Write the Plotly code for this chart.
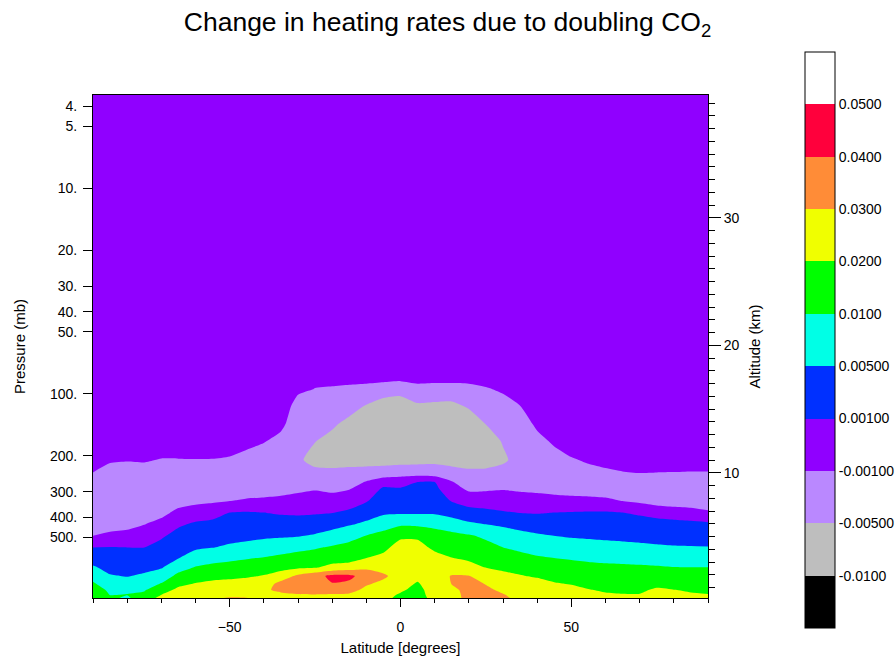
import math
import numpy as np
import plotly.graph_objects as go

# ---------------- data ----------------
latitudes = list(range(-90, 91, 5))
pressure_mb = [3.5, 60, 80, 95, 115, 140, 170, 210, 250, 270, 290, 330, 380,
               430, 490, 560, 630, 700, 770, 840, 900, 950, 990]

# heating-rate change (K/day); one list per latitude (-90 ... 90), values from top (low p) to bottom
heating_rate = [
    [0, 0, 0, 0, 0, 0, 0, -0.00026, -0.00136, -0.0022, -0.00296, -0.0038, -0.0038, -0.0038, -0.00106, 0.00102, 0.00334, 0.0055, 0.00818, 0.0112, 0.015, 0.016, 0.016],
    [0, 0, 0, 0, 0, 0, 0, -0.00081, -0.00249, -0.00332, -0.0038, -0.0038, -0.0038, -0.00312, -0.00048, 0.00111, 0.00264, 0.00396, 0.0053, 0.00735, 0.009, 0.00985, 0.0115],
    [0, 0, 0, 0, 0, 0, 0, -0.00091, -0.00269, -0.00352, -0.0038, -0.0038, -0.0038, -0.00234, -0.00033, 0.00101, 0.00246, 0.00371, 0.00484, 0.00665, 0.00925, 0.0103, 0.00925],
    [0, 0, 0, 0, 0, 0, 0, -0.00085, -0.00257, -0.0034, -0.0038, -0.0038, -0.00312, -0.00114, -0.00003, 0.00102, 0.00264, 0.00405, 0.00562, 0.00781, 0.00956, 0.01185, 0.015],
    [0, 0, 0, 0, 0, 0, 0, -0.00118, -0.00305, -0.0038, -0.0038, -0.0038, -0.00204, -0.00041, 0.00075, 0.00215, 0.00352, 0.0047, 0.00731, 0.0105, 0.0158, 0.01994, 0.023],
    [0, 0, 0, 0, 0, 0, 0, -0.00114, -0.00301, -0.0038, -0.0038, -0.0027, -0.00048, 0.00073, 0.00212, 0.00354, 0.00487, 0.00813, 0.0124, 0.0177, 0.0221, 0.024, 0.025],
    [0, 0, 0, 0, 0, 0, 0, -0.0011, -0.00297, -0.0038, -0.0038, -0.00213, 0.00004, 0.00146, 0.00296, 0.00445, 0.0072, 0.0106, 0.0157, 0.02045, 0.023, 0.0245, 0.026],
    [0, 0, 0, 0, 0, 0, 0, -0.00114, -0.00301, -0.0038, -0.0038, -0.00177, 0.00037, 0.00186, 0.0034, 0.00492, 0.00835, 0.01245, 0.01726, 0.022, 0.0245, 0.0265, 0.029],
    [0, 0, 0, 0, 0, 0, -0.0001, -0.00142, -0.00329, -0.0038, -0.0038, -0.00129, 0.00114, 0.00246, 0.00386, 0.00566, 0.00904, 0.01339, 0.01795, 0.0226, 0.025, 0.0275, 0.031],
    [0, 0, 0, 0, 0, 0, -0.00048, -0.00222, -0.0038, -0.0038, -0.0038, -0.00072, 0.00138, 0.0027, 0.0041, 0.00628, 0.00967, 0.01439, 0.01886, 0.0237, 0.0255, 0.0275, 0.0305],
    [0, 0, 0, 0, 0, 0, -0.00088, -0.00302, -0.0038, -0.0038, -0.0033, -0.00061, 0.00107, 0.00267, 0.00435, 0.00709, 0.01052, 0.01574, 0.0205, 0.025, 0.0285, 0.027, 0.026],
    [0, 0, 0, 0, 0, -0.00054, -0.00216, -0.0038, -0.0038, -0.0038, -0.0025, -0.00051, 0.00084, 0.00257, 0.00448, 0.00781, 0.01221, 0.01707, 0.02425, 0.033, 0.032, 0.0282, 0.026],
    [0, 0, 0, -0.00067, -0.00238, -0.0034, -0.004, -0.0044, -0.0038, -0.00291, -0.00177, -0.00035, 0.00077, 0.00255, 0.00467, 0.00876, 0.01374, 0.01836, 0.032, 0.0345, 0.033, 0.0295, 0.026],
    [0, 0, -0.00048, -0.00108, -0.00234, -0.00363, -0.0049, -0.00653, -0.00356, -0.00237, -0.00128, -0.00019, 0.00085, 0.00287, 0.00543, 0.00955, 0.0148, 0.01935, 0.037, 0.037, 0.034, 0.0298, 0.026],
    [0, 0, -0.00042, -0.00126, -0.00283, -0.00445, -0.00631, -0.00661, -0.00383, -0.00274, -0.00173, -0.0003, 0.00098, 0.00351, 0.0068, 0.01112, 0.01612, 0.0225, 0.042, 0.0397, 0.0335, 0.0295, 0.026],
    [0, 0, -0.00031, -0.00156, -0.0037, -0.00616, -0.00825, -0.00658, -0.00351, -0.0023, -0.00117, 0.00002, 0.00178, 0.00455, 0.00835, 0.0129, 0.016, 0.0245, 0.042, 0.0385, 0.033, 0.029, 0.026],
    [0, 0, -0.00006, -0.00204, -0.00535, -0.00825, -0.00825, -0.00726, -0.00246, -0.00085, -0.00026, 0.00081, 0.0032, 0.0059, 0.01007, 0.01519, 0.01995, 0.028, 0.036, 0.031, 0.028, 0.026, 0.024],
    [0, 0, 0, -0.00262, -0.00771, -0.00825, -0.00825, -0.00718, -0.00207, 0.00025, 0.00154, 0.00295, 0.00448, 0.00795, 0.0128, 0.01758, 0.0224, 0.0265, 0.0315, 0.028, 0.024, 0.023, 0.022],
    [0, 0, 0, -0.00319, -0.00825, -0.00825, -0.00825, -0.00695, -0.00151, 0.00014, 0.00133, 0.00292, 0.00465, 0.00913, 0.01797, 0.024, 0.026, 0.027, 0.026, 0.024, 0.0215, 0.019, 0.018],
    [0, 0, 0, -0.00212, -0.00581, -0.00825, -0.00825, -0.00692, -0.0012, 0.00115, 0.00189, 0.00322, 0.00467, 0.00897, 0.0179, 0.024, 0.0255, 0.025, 0.023, 0.019, 0.017, 0.0165, 0.016],
    [0, 0, -0.00003, -0.00228, -0.00609, -0.00825, -0.00825, -0.00655, -0.00157, 0.00119, 0.0019, 0.0032, 0.0046, 0.00877, 0.01344, 0.01779, 0.0237, 0.025, 0.026, 0.026, 0.025, 0.024, 0.023],
    [0, 0, 0, -0.00233, -0.00631, -0.00825, -0.00825, -0.00726, -0.00246, -0.00084, -0.00025, 0.00083, 0.00359, 0.00752, 0.01229, 0.01639, 0.0202, 0.025, 0.0305, 0.0302, 0.027, 0.026, 0.026],
    [0, 0, -0.00022, -0.00186, -0.00456, -0.00791, -0.00825, -0.00684, -0.00387, -0.00272, -0.00166, 0.00008, 0.00256, 0.00572, 0.01083, 0.0147, 0.01831, 0.0234, 0.0302, 0.0335, 0.034, 0.0335, 0.033],
    [0, 0, -0.0003, -0.00122, -0.00303, -0.0049, -0.00718, -0.00682, -0.00378, -0.0026, -0.00151, -0.00001, 0.00199, 0.00488, 0.00909, 0.01303, 0.01664, 0.0198, 0.0245, 0.0295, 0.032, 0.033, 0.033],
    [0, 0, -0.00022, -0.00082, -0.00198, -0.00336, -0.00472, -0.00579, -0.00326, -0.00222, -0.00125, -0.00006, 0.00139, 0.00434, 0.00722, 0.01004, 0.01449, 0.01836, 0.022, 0.025, 0.028, 0.0305, 0.0315],
    [0, 0, 0, 0, -0.00106, -0.00316, -0.0038, -0.0036, -0.0036, -0.00275, -0.00156, -0.0002, 0.00098, 0.00361, 0.00635, 0.00903, 0.01283, 0.01686, 0.0205, 0.0235, 0.0255, 0.027, 0.028],
    [0, 0, 0, 0, 0, -0.00058, -0.00224, -0.0038, -0.0038, -0.00306, -0.00183, -0.0003, 0.00092, 0.00311, 0.00555, 0.00811, 0.01101, 0.01522, 0.01903, 0.023, 0.0245, 0.0255, 0.026],
    [0, 0, 0, 0, 0, 0, -0.00068, -0.00262, -0.0038, -0.0038, -0.00235, -0.00037, 0.00108, 0.00298, 0.00497, 0.00756, 0.00999, 0.01389, 0.01743, 0.0206, 0.023, 0.024, 0.0245],
    [0, 0, 0, 0, 0, 0, -0.00004, -0.00134, -0.00321, -0.0038, -0.00278, -0.00042, 0.00122, 0.00288, 0.00462, 0.0071, 0.0096, 0.01307, 0.01647, 0.01957, 0.022, 0.0235, 0.024],
    [0, 0, 0, 0, 0, 0, 0, -0.00077, -0.00241, -0.00324, -0.00318, -0.00044, 0.00134, 0.00284, 0.00443, 0.00672, 0.00922, 0.01217, 0.01524, 0.01805, 0.0203, 0.022, 0.023],
    [0, 0, 0, 0, 0, 0, 0, -0.00051, -0.00189, -0.00272, -0.00348, -0.00062, 0.0014, 0.00279, 0.00426, 0.00638, 0.00895, 0.01167, 0.0145, 0.01709, 0.0191, 0.0207, 0.0215],
    [0, 0, 0, 0, 0, 0, 0, -0.00031, -0.00149, -0.00232, -0.00308, -0.00128, 0.0011, 0.00256, 0.0041, 0.00616, 0.00878, 0.01141, 0.01418, 0.01672, 0.0187, 0.0203, 0.021],
    [0, 0, 0, 0, 0, 0, 0, -0.00021, -0.00129, -0.00212, -0.00288, -0.002, 0.00078, 0.00234, 0.00393, 0.00591, 0.00853, 0.01112, 0.01399, 0.01661, 0.0187, 0.0203, 0.021],
    [0, 0, 0, 0, 0, 0, 0, -0.00025, -0.00137, -0.0022, -0.00296, -0.00298, 0.00045, 0.00213, 0.00374, 0.00558, 0.00816, 0.01075, 0.01455, 0.01803, 0.021, 0.022, 0.0225],
    [0, 0, 0, 0, 0, 0, 0, -0.00027, -0.00141, -0.00224, -0.003, -0.00349, 0.00019, 0.00196, 0.00358, 0.00534, 0.00788, 0.01015, 0.0139, 0.01732, 0.0201, 0.021, 0.0215],
    [0, 0, 0, 0, 0, 0, 0, -0.00031, -0.00149, -0.00232, -0.00308, -0.00379, -0.00004, 0.0018, 0.00348, 0.00526, 0.00784, 0.01014, 0.01363, 0.01682, 0.0193, 0.0206, 0.021],
    [0, 0, 0, 0, 0, 0, 0, -0.00031, -0.00149, -0.00232, -0.00308, -0.0038, -0.00065, 0.00163, 0.00338, 0.00519, 0.00781, 0.01013, 0.0134, 0.01638, 0.0187, 0.0202, 0.0208],
]

level_values = [-0.01, -0.005, -0.001, 0.001, 0.005, 0.01, 0.02, 0.03, 0.04, 0.05]
level_labels = ["-0.0100", "-0.00500", "-0.00100", "0.00100", "0.00500",
                "0.0100", "0.0200", "0.0300", "0.0400", "0.0500"]
band_colors = ["#000000", "#bebebe", "#ba88ff", "#9000ff", "#0030ff", "#00ffe6",
               "#00ff00", "#f0ff00", "#ff8c37", "#ff003c", "#ffffff"]

pressure_ticks = [4, 5, 10, 20, 30, 40, 50, 100, 200, 300, 400, 500]
pressure_tick_labels = ["4.", "5.", "10.", "20.", "30.", "40.", "50.",
                        "100.", "200.", "300.", "400.", "500."]
latitude_ticks = [-50, 0, 50]
altitude_ticks = [10, 20, 30]

# ---------------- scales ----------------
SCALE_HEIGHT_KM = 7.0
SURFACE_P = 1013.25
P_BOTTOM, P_TOP = 986.0, 3.52


def altitude_km(p):
    return SCALE_HEIGHT_KM * math.log(SURFACE_P / p)


z = np.array(heating_rate, dtype=float).T          # rows = pressure, cols = latitude
band_index = np.interp(z, level_values, np.arange(1, len(level_values) + 1))

n_bands = len(band_colors)
contour_scale = [[k / (n_bands - 1), c] for k, c in enumerate(band_colors)]
stepped_scale = []
for k, c in enumerate(band_colors):
    stepped_scale += [[k / n_bands, c], [(k + 1) / n_bands, c]]

FONT = "Liberation Sans, Arial, Helvetica, sans-serif"
W, H = 895, 657
ML, MR, MT, MB = 93, 187, 95, 59
plot_w, plot_h = W - ML - MR, H - MT - MB

# colorbar geometry (pixels)
CB_LEFT, CB_TOP, CB_THICK, CB_LEN = 805, 52, 30, 576
cb_x = (CB_LEFT - ML) / plot_w
cb_y = (H - MB - (CB_TOP + CB_LEN / 2)) / plot_h

fig = go.Figure()
fig.add_trace(go.Contour(
    x=latitudes, y=pressure_mb, z=band_index,
    colorscale=contour_scale,
    contours=dict(start=1, end=len(level_values), size=1, coloring="fill", showlines=False),
    line=dict(width=0, smoothing=0.6),
    showscale=False, hoverinfo="skip",
))
fig.add_trace(go.Scatter(
    x=[0], y=[20], yaxis="y2", mode="markers", showlegend=False, hoverinfo="skip",
    marker=dict(size=1, opacity=0, color=[0], cmin=0, cmax=n_bands,
                colorscale=stepped_scale, showscale=True,
                colorbar=dict(
                    x=cb_x, xanchor="left", y=cb_y, yanchor="middle",
                    lenmode="pixels", len=CB_LEN, thickness=CB_THICK,
                    xpad=0, ypad=0, outlinecolor="black", outlinewidth=1,
                    tickvals=list(range(1, n_bands)), ticktext=level_labels,
                    ticks="", tickfont=dict(family=FONT, size=14, color="black"),
                )),
))

shapes = []
for k in range(1, n_bands):
    y_px = CB_TOP + CB_LEN - k * CB_LEN / n_bands
    yp = (H - MB - y_px) / plot_h
    shapes.append(dict(type="line", xref="paper", yref="paper",
                       x0=cb_x, x1=cb_x + CB_THICK / plot_w, y0=yp, y1=yp,
                       line=dict(color="black", width=1)))

axis_common = dict(showgrid=False, zeroline=False, linecolor="black", linewidth=1,
                   tickcolor="black", tickwidth=1, automargin=False,
                   tickfont=dict(family=FONT, size=14, color="black"))

fig.update_layout(
    width=W, height=H,
    margin=dict(l=ML, r=MR, t=MT, b=MB, autoexpand=False),
    paper_bgcolor="white", plot_bgcolor="white",
    font=dict(family=FONT, color="black"),
    title=dict(text="Change in heating rates due to doubling CO<sub>2</sub>",
               x=0.5, xanchor="center", y=1 - 22 / H, yanchor="middle",
               font=dict(family=FONT, size=26.5, color="black")),
    xaxis=dict(range=[-90, 90], tickvals=latitude_ticks, ticks="outside", ticklen=8,
               ticklabelstandoff=8, showline=True, mirror=True,
               minor=dict(dtick=10, ticks="outside", ticklen=4, tickcolor="black", tickwidth=1),
               title=dict(text="Latitude [degrees]", standoff=8,
                          font=dict(family=FONT, size=15, color="black")),
               **axis_common),
    yaxis=dict(type="log", range=[math.log10(P_BOTTOM), math.log10(P_TOP)],
               tickvals=pressure_ticks, ticktext=pressure_tick_labels,
               ticks="outside", ticklen=9, ticklabelstandoff=3, showline=True, mirror=True,
               title=dict(text="Pressure (mb)", standoff=20,
                          font=dict(family=FONT, size=15, color="black")),
               **axis_common),
    yaxis2=dict(overlaying="y", side="right",
                range=[altitude_km(P_BOTTOM), altitude_km(P_TOP)],
                tickvals=altitude_ticks, ticks="outside", ticklen=12, showline=False,
                minor=dict(dtick=1, ticks="outside", ticklen=6, tickcolor="black", tickwidth=1),
                title=dict(text="Altitude (km)", standoff=10,
                           font=dict(family=FONT, size=15, color="black")),
                **axis_common),
    shapes=shapes,
)

fig.write_html("out.html", config={"displayModeBar": False},
               post_script="document.body.style.margin='0';")
